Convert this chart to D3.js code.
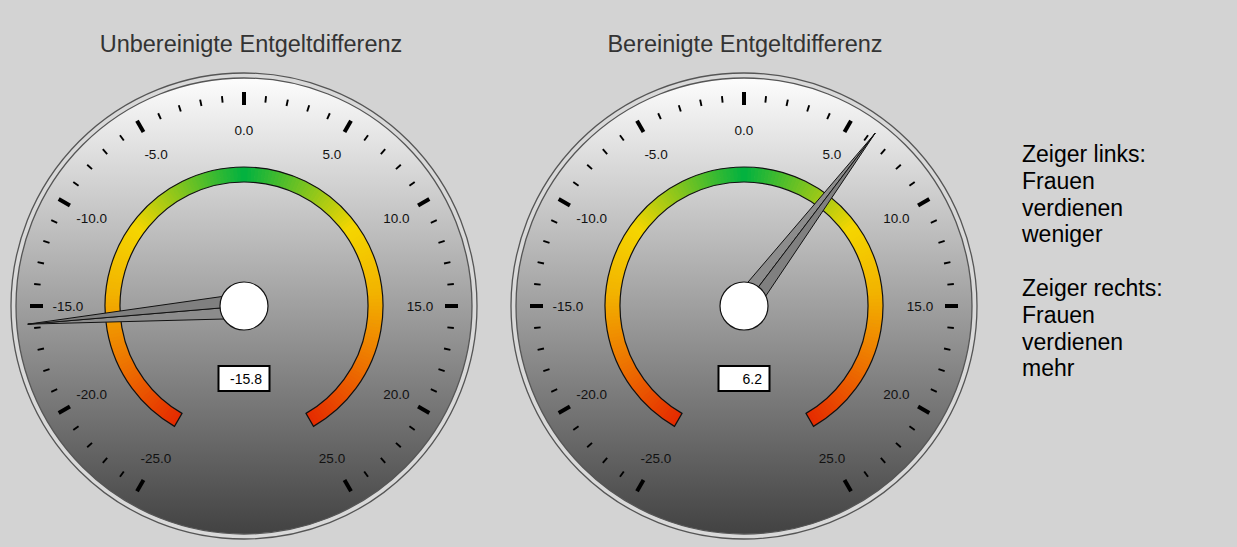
<!DOCTYPE html>
<html lang="de">
<head>
<meta charset="UTF-8">
<title>Entgeltdifferenz</title>
<script src="https://cdn.jsdelivr.net/npm/d3@7"></script>
<style>
    body { margin: 0; background: #d3d3d3; font-family: "Liberation Sans", Arial, sans-serif; }
    svg { display: block; }
</style>
</head>
<body>
<svg id="chart" width="1237" height="547"></svg>
<script>
    // gauge data
    var titles = ["Unbereinigte Entgeltdifferenz", "Bereinigte Entgeltdifferenz"];
    var values = [-15.8, 6.2];
    var majorTicks = [-25, -20, -15, -10, -5, 0, 5, 10, 15, 20, 25];
    var minorTicks = d3.range(-25, 26, 1).filter(function(v) { return v % 5 !== 0; });
    var bandStops = [0, 9, 14, 19, 25];
    var bandColors = ["#00b140", "#f5d600", "#f2b300", "#ee7800", "#e52a00"];
    var noteLines = ["Zeiger links:", "Frauen", "verdienen", "weniger", "", "Zeiger rechts:", "Frauen", "verdienen", "mehr"];

    var svg = d3.select("#chart");
    var centersX = [244, 744];
    var titlesX = [251, 745];
    var centerY = 306;
    var rOuter = 233, rFace = 228;

    var angle = d3.scaleLinear().domain([-25, 25]).range([-150, 150]);
    var rad = function(v) { return angle(v) * Math.PI / 180; };
    var bandColor = d3.scaleLinear().domain(bandStops).range(bandColors).interpolate(d3.interpolateRgb);
    var fmt = function(v) { return v.toFixed(1); };

    var defs = svg.append("defs");
    var grad = defs.append("linearGradient")
        .attr("id", "face").attr("x1", 0).attr("y1", 0).attr("x2", 0).attr("y2", 1);
    grad.append("stop").attr("offset", "0%").attr("stop-color", "#fdfdfd");
    grad.append("stop").attr("offset", "100%").attr("stop-color", "#424242");

    function polar(r, v) {
        var a = rad(v);
        return [r * Math.sin(a), -r * Math.cos(a)];
    }

    values.forEach(function(val, i) {
        var cx = centersX[i];

        svg.append("text")
            .attr("x", titlesX[i]).attr("y", 52)
            .attr("text-anchor", "middle")
            .attr("font-size", "23.5px")
            .attr("fill", "#333")
            .text(titles[i]);

        var g = svg.append("g").attr("transform", "translate(" + cx + "," + centerY + ")");

        // bezel + face
        g.append("circle").attr("r", rOuter).attr("fill", "#d9d9d9").attr("stroke", "#555").attr("stroke-width", 1.3);
        g.append("circle").attr("r", rFace).attr("fill", "url(#face)").attr("stroke", "#555").attr("stroke-width", 1.3);

        // colour band
        var bandArc = d3.arc().innerRadius(124).outerRadius(139);
        var steps = d3.range(-25, 25, 0.25);
        g.selectAll(".seg")
            .data(steps)
            .enter().append("path")
            .attr("d", function(v) {
                return bandArc({ startAngle: rad(v), endAngle: rad(Math.min(v + 0.3, 25)) });
            })
            .attr("fill", function(v) { return bandColor(Math.abs(v + 0.125)); });
        g.append("path")
            .attr("d", bandArc({ startAngle: rad(-25), endAngle: rad(25) }))
            .attr("fill", "none").attr("stroke", "#111").attr("stroke-width", 1.2);

        // ticks
        g.selectAll(".minor")
            .data(minorTicks)
            .enter().append("line")
            .attr("y1", -204.5).attr("y2", -211)
            .attr("transform", function(v) { return "rotate(" + angle(v) + ")"; })
            .attr("stroke", "#000").attr("stroke-width", 1.9);
        g.selectAll(".major")
            .data(majorTicks)
            .enter().append("line")
            .attr("y1", -201).attr("y2", -214)
            .attr("transform", function(v) { return "rotate(" + angle(v) + ")"; })
            .attr("stroke", "#000").attr("stroke-width", 4);
        g.selectAll(".lbl")
            .data(majorTicks)
            .enter().append("text")
            .attr("x", function(v) { return polar(176, v)[0]; })
            .attr("y", function(v) { return polar(176, v)[1] + 5; })
            .attr("text-anchor", "middle")
            .attr("font-size", "13.5px")
            .attr("fill", "#111")
            .text(fmt);

        // needle
        var tip = polar(217, val);
        var left = polar(12.5, val - 15);
        var right = polar(12.5, val + 15);
        g.append("path")
            .attr("d", "M0,0L" + left + "L" + tip + "Z")
            .attr("fill", "#8c8c8c").attr("stroke", "#111").attr("stroke-width", 1);
        g.append("path")
            .attr("d", "M0,0L" + right + "L" + tip + "Z")
            .attr("fill", "#808080").attr("stroke", "#111").attr("stroke-width", 1);
        g.append("circle").attr("r", 24).attr("fill", "#fff").attr("stroke", "#111").attr("stroke-width", 1.2);

        // value box
        g.append("rect")
            .attr("x", -25.5).attr("y", 60).attr("width", 51).attr("height", 25)
            .attr("fill", "#fff").attr("stroke", "#000").attr("stroke-width", 2);
        g.append("text")
            .attr("x", 18).attr("y", 78)
            .attr("text-anchor", "end")
            .attr("font-size", "14px")
            .attr("fill", "#000")
            .text(fmt(val));
    });

    svg.append("g").selectAll("text")
        .data(noteLines)
        .enter().append("text")
        .attr("x", 1022)
        .attr("y", function(d, i) { return 162 + i * 26.8; })
        .attr("font-size", "23px")
        .attr("fill", "#000")
        .text(function(d) { return d; });
</script>
</body>
</html>
